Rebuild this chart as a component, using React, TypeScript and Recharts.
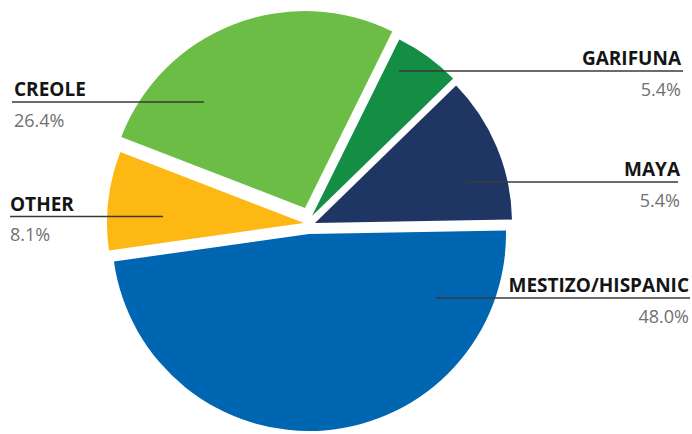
import React from "react";
import { PieChart, Pie, Cell } from "recharts";

document.body.style.margin = "0";

// slice order, counter-clockwise from 3 o'clock
const names = ["MAYA", "GARIFUNA", "CREOLE", "OTHER", "MESTIZO/HISPANIC"];
const values = [12.0, 5.4, 26.4, 8.1, 48.0];
const pctLabels = ["5.4%", "5.4%", "26.4%", "8.1%", "48.0%"];
const colors = ["#1f3563", "#138e44", "#6cbd45", "#fdb813", "#0066b1"];

const data = names.map((name, i) => ({ name, value: values[i] }));

const W = 692;
const H = 434;
const CX = 309;
const CY = 222;
const R = 197;
const START = 1;

// exploded offset of each slice from the common centre
const offsets = [
  [6, 1],
  [3, -6],
  [-4, -14],
  [-5, 1],
  [0, 12],
];

// leader line + text placement
const labelLayout = [
  { y: 182, x1: 466, x2: 678, tx: 680, anchor: "end" },
  { y: 71, x1: 399, x2: 683, tx: 681, anchor: "end" },
  { y: 102, x1: 12, x2: 204, tx: 14, anchor: "start" },
  { y: 216.5, x1: 10, x2: 163, tx: 10, anchor: "start" },
  { y: 298, x1: 436, x2: 690, tx: 689, anchor: "end" },
];

const renderLabel = (i: number) => {
  const l = labelLayout[i];
  return (
    <g>
      <line x1={l.x1} x2={l.x2} y1={l.y} y2={l.y} stroke="#3a3a3a" strokeWidth={1.5} />
      <text
        x={l.tx}
        y={l.y - 6}
        textAnchor={l.anchor as any}
        fontFamily="Open Sans"
        fontWeight={700}
        fontSize={19}
        fill="#151515"
      >
        {names[i]}
      </text>
      <text
        x={l.tx}
        y={l.y + 24.5}
        textAnchor={l.anchor as any}
        fontFamily="Open Sans"
        fontWeight={400}
        fontSize={18}
        fill="#707173"
      >
        {pctLabels[i]}
      </text>
    </g>
  );
};

const App = () => {
  return (
    <div style={{ width: W, height: H, background: "#fff" }}>
      <PieChart width={W} height={H} margin={{ top: 0, right: 0, bottom: 0, left: 0 }}>
        {names.map((n, i) => (
          <Pie
            key={n}
            data={data}
            dataKey="value"
            nameKey="name"
            cx={CX + offsets[i][0]}
            cy={CY + offsets[i][1]}
            innerRadius={0}
            outerRadius={R}
            startAngle={START}
            endAngle={START + 360}
            stroke="none"
            labelLine={false}
            label={(p: any) => (p.index === i ? renderLabel(i) : null)}
            isAnimationActive={false}
          >
            {data.map((d, j) => (
              <Cell
                key={d.name}
                fill={colors[j]}
                fillOpacity={j === i ? 1 : 0}
              />
            ))}
          </Pie>
        ))}
      </PieChart>
    </div>
  );
};

export default App;
